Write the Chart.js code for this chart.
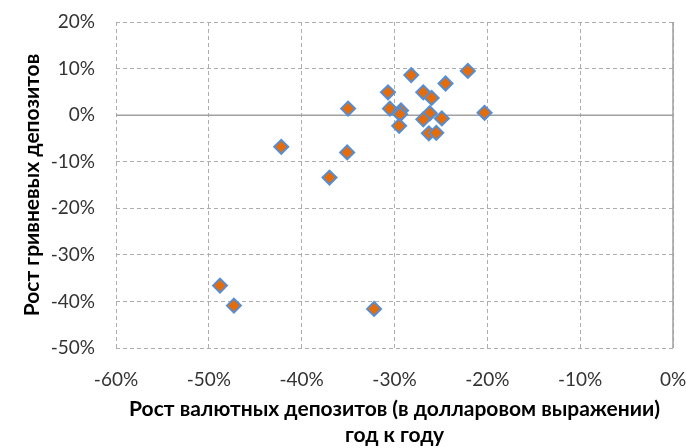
<!DOCTYPE html>
<html>
<head>
<meta charset="utf-8">
<script src="https://cdn.jsdelivr.net/npm/chart.js@4"></script>
<style>
  html, body { margin: 0; padding: 0; background: #fff; }
  #wrap { width: 686px; height: 448px; }
</style>
</head>
<body>
<div id="wrap"><canvas id="scatterChart"></canvas></div>
<script>
// Рост валютных депозитов (x) и гривневых депозитов (y), % г/г
const fxGrowth = [-22.1, -20.3, -24.5, -28.2, -30.7, -26.9, -26.0, -35.0, -30.5, -29.3, -29.4, -26.2,
                  -26.9, -24.9, -29.5, -26.3, -25.5, -35.1, -42.2, -37.0, -48.8, -47.3, -32.2];
const uahGrowth = [9.5, 0.5, 6.8, 8.6, 4.9, 4.9, 3.7, 1.4, 1.4, 1.0, 0.2, 0.4,
                   -0.9, -0.7, -2.3, -3.9, -3.8, -8.0, -6.8, -13.4, -36.6, -40.9, -41.6];
const xTicks = [-60, -50, -40, -30, -20, -10, 0];
const yTicks = [-50, -40, -30, -20, -10, 0, 10, 20];

const points = fxGrowth.map((x, i) => ({ x: x, y: uahGrowth[i] }));

const gridColor = '#ADADAD';
const tickFont = { family: 'Lato', size: 19 };
const titleFont = { family: 'Lato', size: 21, weight: 'bold', lineHeight: 1.24 };

// Solid axis lines at zero (x axis at y=0, y axis at x=0)
const zeroLines = {
    id: 'zeroLines',
    beforeDatasetsDraw(chart) {
        const { ctx, chartArea, scales } = chart;
        const y0 = scales.y.getPixelForValue(0);
        const x0 = scales.x.getPixelForValue(0);
        ctx.save();
        ctx.strokeStyle = '#A0A0A0';
        ctx.lineWidth = 1.5;
        ctx.beginPath();
        ctx.moveTo(chartArea.left, y0);
        ctx.lineTo(chartArea.right, y0);
        ctx.moveTo(x0, chartArea.top);
        ctx.lineTo(x0, chartArea.bottom);
        ctx.stroke();
        ctx.restore();
    }
};

new Chart(document.getElementById('scatterChart'), {
    type: 'scatter',
    data: {
        datasets: [{
            data: points,
            pointStyle: 'rectRot',
            pointRadius: 7,
            pointHoverRadius: 7,
            backgroundColor: '#E46C0A',
            borderColor: '#558ED5',
            borderWidth: 2
        }]
    },
    options: {
        responsive: true,
        maintainAspectRatio: false,
        animation: false,
        layout: { padding: { left: 0, right: 13, top: 22, bottom: 0 } },
        plugins: {
            legend: { display: false },
            tooltip: { enabled: false }
        },
        scales: {
            x: {
                type: 'linear',
                min: -60,
                max: 0,
                afterBuildTicks: (scale) => { scale.ticks = xTicks.map(v => ({ value: v })); },
                afterFit: (scale) => {
                    scale.height = 100;
                    scale.paddingLeft = 0;
                    scale.paddingRight = 0;
                },
                grid: { color: gridColor, drawTicks: false },
                border: { display: false, dash: [4, 3] },
                ticks: {
                    color: '#333',
                    font: tickFont,
                    padding: 20,
                    maxRotation: 0,
                    callback: (v) => v + '%'
                },
                title: {
                    display: true,
                    text: ['Рост валютных депозитов (в долларовом выражении)', 'год к году'],
                    color: '#000',
                    font: titleFont,
                    padding: { top: 0, bottom: 0 }
                }
            },
            y: {
                type: 'linear',
                min: -50,
                max: 20,
                afterBuildTicks: (scale) => { scale.ticks = yTicks.map(v => ({ value: v })); },
                afterFit: (scale) => {
                    scale.width = 116;
                    scale.paddingTop = 0;
                    scale.paddingBottom = 0;
                },
                grid: { color: gridColor, drawTicks: false },
                border: { display: false, dash: [4, 3] },
                ticks: {
                    color: '#333',
                    font: tickFont,
                    padding: 21,
                    callback: (v) => v + '%'
                },
                title: {
                    display: true,
                    text: 'Рост гривневых депозитов',
                    color: '#000',
                    font: { family: 'Lato', size: 21, weight: 'bold' },
                    padding: { top: 20, bottom: 0 }
                }
            }
        }
    },
    plugins: [zeroLines]
});
</script>
</body>
</html>
